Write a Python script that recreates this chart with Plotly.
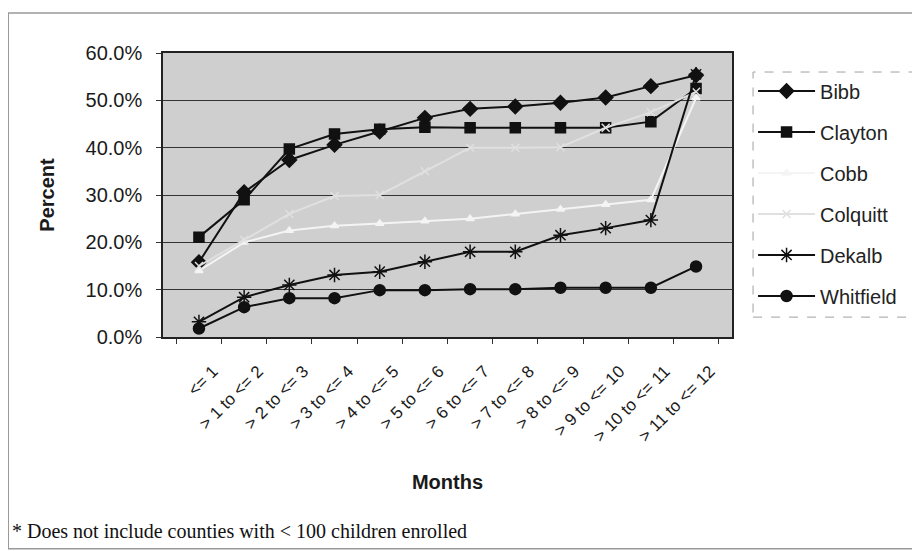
import plotly.graph_objects as go

months = ["<= 1", "> 1 to <= 2", "> 2 to <= 3", "> 3 to <= 4", "> 4 to <= 5", "> 5 to <= 6",
          "> 6 to <= 7", "> 7 to <= 8", "> 8 to <= 9", "> 9 to <= 10", "> 10 to <= 11", "> 11 to <= 12"]

bibb = [15.8, 30.6, 37.4, 40.6, 43.4, 46.3, 48.2, 48.7, 49.5, 50.6, 53.0, 55.3]
clayton = [21.1, 29.0, 39.7, 42.9, 43.9, 44.3, 44.2, 44.2, 44.2, 44.2, 45.5, 52.5]
cobb = [14.0, 20.0, 22.5, 23.5, 24.0, 24.5, 25.0, 26.0, 27.0, 28.0, 29.0, 50.5]
colquitt = [15.0, 20.5, 26.0, 29.8, 30.0, 35.0, 40.0, 40.0, 40.1, 44.2, 47.5, 51.8]
dekalb = [3.2, 8.4, 11.0, 13.1, 13.8, 15.9, 18.0, 18.0, 21.5, 23.0, 24.7, 55.5]
whitfield = [1.8, 6.3, 8.2, 8.2, 9.9, 9.9, 10.1, 10.1, 10.4, 10.4, 10.4, 14.9]

series = [
    ("Bibb", bibb, "#111111", "diamond", 11),
    ("Clayton", clayton, "#111111", "square", 10),
    ("Cobb", cobb, "#f4f4f4", "triangle-up", 7),
    ("Colquitt", colquitt, "#e0e0e0", "x-thin-open", 8),
    ("Dekalb", dekalb, "#111111", "asterisk-open", 12),
    ("Whitfield", whitfield, "#111111", "circle", 11),
]

fig = go.Figure()
for name, vals, color, symbol, size in series:
    fig.add_trace(go.Scatter(
        x=months, y=[v / 100 for v in vals], name=name, legendgroup=name,
        mode="lines+markers",
        line=dict(color=color, width=2),
        marker=dict(symbol=symbol, size=size, color=color, line=dict(color=color, width=1.5)),
    ))

# page body adds 8px around the figure, so the figure is 912x543
fig.update_layout(
    width=912, height=543,
    margin=dict(l=155, r=188, t=45, b=214),
    paper_bgcolor="white",
    plot_bgcolor="#cfcfcf",
    font=dict(family="Arial, Liberation Sans, sans-serif", color="#1a1a1a"),
    showlegend=True,
    legend=dict(
        x=1.037, y=0.935, xanchor="left", yanchor="top",
        font=dict(size=20, color="#222"),
        bgcolor="rgba(0,0,0,0)", borderwidth=0,
        tracegroupgap=12, itemwidth=57,
    ),
    shapes=[
        # dashed legend frame
        dict(type="rect", xref="paper", yref="paper", x0=1.037, x1=1.33, y0=0.07, y1=0.933,
             line=dict(color="#a0a0a0", width=1, dash="dash")),
        # outer chart frame
        dict(type="rect", xref="paper", yref="paper", x0=-0.272, x1=1.327, y0=-0.746, y1=1.141,
             line=dict(color="#999999", width=1.5)),
    ],
    annotations=[
        dict(text="* Does not include counties with < 100 children enrolled",
             xref="paper", yref="paper", x=-0.269, y=-0.683, xanchor="left", yanchor="middle",
             showarrow=False, font=dict(family="Liberation Serif, Times New Roman, serif", size=20, color="#111")),
    ],
)

fig.update_xaxes(
    type="category", tickangle=-45, tickfont=dict(size=17),
    ticks="outside", tickson="boundaries", ticklen=5, tickcolor="#333",
    ticklabelstandoff=16, ticklabelshift=14,
    showline=True, linecolor="#222", linewidth=1.5, mirror=True,
    showgrid=False,
    title=dict(text="<b>Months</b>", font=dict(size=20), standoff=30),
)
fig.update_yaxes(
    range=[0, 0.6], dtick=0.1, tickformat=".1%", tickfont=dict(size=20),
    ticks="outside", ticklen=5, tickcolor="#333",
    ticklabelstandoff=10,
    showline=True, linecolor="#222", linewidth=1.5, mirror=True,
    showgrid=True, gridcolor="#333333", gridwidth=1.2, zeroline=False,
    title=dict(text="<b>Percent</b>", font=dict(size=20), standoff=26),
)

fig.write_html("out.html")
